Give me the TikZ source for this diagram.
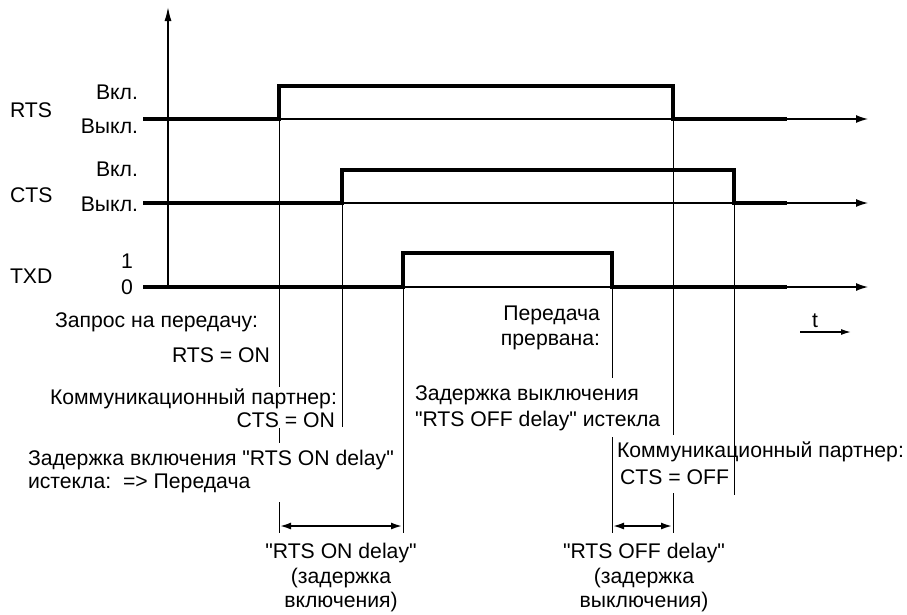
\documentclass[tikz,border=0pt]{standalone}
\usepackage{fontspec}
\newfontfamily\lsans{Liberation Sans}
\usetikzlibrary{arrows.meta}
\begin{document}
\begin{tikzpicture}[x=1pt,y=-1pt,
  every node/.style={inner sep=0pt,outer sep=0pt,font=\lsans\fontsize{21.2}{24}\selectfont},
  sig/.style={line width=4.2pt,line join=miter,line cap=butt},
  baseax/.style={line width=1.3pt,-{Latex[length=12pt,width=8pt]}},
  drop/.style={line width=0.9pt},
  span/.style={line width=2.8pt,{Latex[length=12pt,width=7pt]}-{Latex[length=12pt,width=7pt]}},
  lbl/.style={anchor=base west},
  rlbl/.style={anchor=base east},
  clbl/.style={anchor=base}]
\useasboundingbox (0,0) rectangle (907,614);

% event coordinates
\coordinate (rOn)  at (279,119);
\coordinate (cOn)  at (342,203);
\coordinate (tOn)  at (403,287);
\coordinate (tOff) at (612,287);
\coordinate (rOff) at (673,119);
\coordinate (cOff) at (734,203);

% vertical axis
\draw[line width=1.4pt,-{Latex[length=14pt,width=7pt]}] (168,287) -- (168,7);

% base lines with arrows
\draw[baseax] (143,119) -- (868,119);
\draw[baseax] (143,203) -- (868,203);
\draw[baseax] (143,287) -- (868,287);

% signals
\draw[sig] (143,119) -- (279,119) -- (279,86) -- (673,86) -- (673,119) -- (787,119);
\draw[sig] (143,203) -- (342,203) -- (342,170) -- (734,170) -- (734,203) -- (787,203);
\draw[sig] (143,287) -- (403,287) -- (403,253) -- (612,253) -- (612,287) -- (787,287);

% drop lines
\draw[drop] (rOn) -- (279,387) (279,428) -- (279,443) (279,502) -- (279,533);
\draw[drop] (cOn) -- (342,427);
\draw[drop] (tOn) -- (403,533);
\draw[drop] (tOff) -- (612,378) (612,437) -- (612,533);
\draw[drop] (rOff) -- (673,435) (673,493) -- (673,533);
\draw[drop] (cOff) -- (734,495);

% delay spans
\draw[span] (279,526) -- (403,526);
\draw[span] (612,526) -- (673,526);

% t arrow
\draw[line width=1.4pt,-{Latex[length=10pt,width=6pt]}] (800,332) -- (851,332);
\node[clbl] (t) at (815,327) {t};

% signal labels
\node[lbl] (rts) at (10,117) {RTS};
\node[lbl] (cts) at (10,202) {CTS};
\node[lbl] (txd) at (10,283) {TXD};
\node[rlbl] (r1) at (138,99) {Вкл.};
\node[rlbl] (r0) at (138,133) {Выкл.};
\node[rlbl] (c1) at (138,176) {Вкл.};
\node[rlbl] (c0) at (138,211) {Выкл.};
\node[rlbl] (x1) at (133,268) {1};
\node[rlbl] (x0) at (133,294) {0};

% left annotations
\node[lbl] (a1) at (55,327) {Запрос на передачу:};
\node[rlbl] (a2) at (270,362) {RTS = ON};
\node[lbl] (b1) at (50,404) {Коммуникационный партнер:};
\node[rlbl] (b2) at (335,427) {CTS = ON};
\node[lbl] (d1) at (28,465) {Задержка включения "RTS ON delay"};
\node[lbl] (d2) at (28,488) {истекла:\ \ => Передача};

% right annotations
\node[rlbl] (e1) at (600,320) {Передача};
\node[rlbl] (e2) at (600,345) {прервана:};
\node[lbl] (f1) at (415,400) {Задержка выключения};
\node[lbl] (f2) at (415,426) {"RTS OFF delay" истекла};
\node[lbl] (g1) at (617,457) {Коммуникационный партнер:};
\node[lbl] (g2) at (620,484) {CTS = OFF};

% delay captions
\node[clbl] (h1) at (341,558) {"RTS ON delay"};
\node[clbl] (h2) at (341,583) {(задержка};
\node[clbl] (h3) at (341,607) {включения)};
\node[clbl] (k1) at (644,558) {"RTS OFF delay"};
\node[clbl] (k2) at (644,583) {(задержка};
\node[clbl] (k3) at (644,607) {выключения)};
\end{tikzpicture}
\end{document}
